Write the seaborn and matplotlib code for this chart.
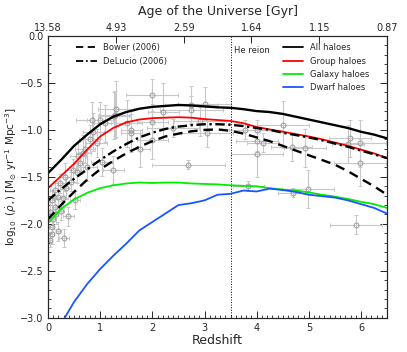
import numpy as np
import pandas as pd
import matplotlib
matplotlib.use('Agg')
import matplotlib.pyplot as plt
from matplotlib.ticker import MultipleLocator
from matplotlib.lines import Line2D
import seaborn as sns

# Model curves (redshift grid + log10 SFR density)
z_grid = [0, 0.25, 0.5, 0.75, 1.0, 1.25, 1.5, 1.75, 2.0, 2.25, 2.5, 2.75, 3.0, 3.25,
          3.5, 3.75, 4.0, 4.25, 4.5, 4.75, 5.0, 5.25, 5.5, 5.75, 6.0, 6.25, 6.5]
all_haloes = [-1.46, -1.32, -1.17, -1.05, -0.94, -0.86, -0.81, -0.775, -0.755, -0.745, -0.735, -0.74, -0.75, -0.76,
              -0.765, -0.78, -0.80, -0.81, -0.83, -0.86, -0.89, -0.92, -0.95, -0.98, -1.02, -1.05, -1.09]
group_haloes = [-1.62, -1.49, -1.36, -1.21, -1.07, -0.98, -0.92, -0.89, -0.875, -0.87, -0.865, -0.87, -0.885, -0.895,
                -0.905, -0.93, -0.97, -0.995, -1.02, -1.045, -1.07, -1.10, -1.135, -1.17, -1.21, -1.25, -1.30]
galaxy_haloes = [-1.99, -1.84, -1.74, -1.67, -1.62, -1.59, -1.57, -1.56, -1.565, -1.56, -1.56, -1.57, -1.575, -1.58,
                 -1.59, -1.595, -1.60, -1.62, -1.635, -1.645, -1.665, -1.69, -1.71, -1.735, -1.765, -1.79, -1.83]
delucia = [-1.75, -1.63, -1.52, -1.42, -1.32, -1.23, -1.15, -1.08, -1.03, -0.99, -0.965, -0.95, -0.94, -0.94,
           -0.945, -0.96, -0.98, -1.0, -1.03, -1.055, -1.08, -1.11, -1.145, -1.18, -1.22, -1.26, -1.30]
bower = [-1.95, -1.80, -1.66, -1.53, -1.42, -1.33, -1.25, -1.18, -1.12, -1.07, -1.04, -1.015, -1.0, -0.995,
         -1.01, -1.04, -1.08, -1.12, -1.17, -1.22, -1.27, -1.32, -1.37, -1.44, -1.52, -1.60, -1.69]

z_dwarf = [0.32, 0.5, 0.75, 1.0, 1.25, 1.5, 1.75, 2.0, 2.25, 2.5, 2.75, 3.0, 3.25,
           3.5, 3.75, 4.0, 4.25, 4.5, 4.75, 5.0, 5.25, 5.5, 5.75, 6.0, 6.25, 6.5]
dwarf_haloes = [-3.0, -2.83, -2.64, -2.48, -2.34, -2.21, -2.07, -1.98, -1.89, -1.80, -1.78, -1.75, -1.69,
                -1.68, -1.645, -1.655, -1.625, -1.64, -1.66, -1.69, -1.705, -1.72, -1.75, -1.79, -1.83, -1.89]

# Observational compilation
obs_z = [0.04, 0.07, 0.07, 0.04, 0.13, 0.07, 0.2, 0.13, 0.23, 0.33, 0.48, 0.58, 0.71, 0.87, 0.93,
         1.0, 1.09, 1.28, 1.25, 0.74, 1.03, 0.52, 0.39, 0.2, 0.31, 0.84, 1.26, 1.3,
         0.15, 0.28, 0.35, 0.45, 0.55, 0.62, 0.68, 0.8, 0.1, 0.25,
         1.51, 1.6, 1.6, 1.76, 2.0, 2.0, 2.0, 2.21, 2.4, 2.69, 2.75, 2.75, 2.91, 3.0, 3.04,
         3.77, 4.0, 4.0, 4.12, 4.0, 4.5, 4.67, 4.92, 5.79, 5.75, 5.98, 5.98, 3.84, 4.7, 4.99, 5.9]
obs_sfr = [-2.17, -2.11, -2.03, -1.87, -1.82, -1.75, -1.71, -1.64, -1.57, -1.5, -1.43, -1.28, -1.2, -1.02, -1.14,
           -0.9, -0.93, -0.84, -1.43, -1.39, -1.34, -1.745, -1.92, -2.08, -2.15, -0.9, -0.85, -0.78,
           -1.9, -1.73, -1.62, -1.55, -1.45, -1.35, -1.25, -1.1, -1.95, -1.86,
           -0.93, -1.0, -1.03, -1.2, -0.63, -0.92, -1.11, -0.805, -0.98, -1.37, -0.73, -0.79, -0.91, -0.72, -1.03,
           -1.0, -1.0, -1.12, -1.135, -1.255, -0.947, -1.18, -1.195, -1.09, -1.15, -1.14, -1.35, -1.595, -1.667, -1.63, -2.01]
obs_zerr = [0.03, 0.05, 0.05, 0.03, 0.05, 0.05, 0.1, 0.1, 0.1, 0.1, 0.15, 0.15, 0.2, 0.2, 0.2,
            0.25, 0.2, 0.3, 0.2, 0.2, 0.2, 0.1, 0.1, 0.05, 0.1, 0.3, 0.3, 0.35,
            0.05, 0.1, 0.1, 0.1, 0.1, 0.12, 0.15, 0.2, 0.05, 0.05,
            0.3, 0.2, 0.2, 0.2, 0.5, 0.3, 0.3, 0.3, 0.5, 0.7, 0.5, 0.6, 0.5, 0.5, 0.5,
            0.3, 0.5, 0.4, 0.3, 0.5, 0.5, 0.4, 0.4, 0.4, 0.3, 0.5, 0.5, 0.3, 0.3, 0.5, 0.5]
obs_sfrerr = [0.08, 0.1, 0.1, 0.1, 0.12, 0.1, 0.12, 0.1, 0.1, 0.15, 0.12, 0.15, 0.15, 0.2, 0.15,
              0.2, 0.2, 0.25, 0.15, 0.15, 0.15, 0.1, 0.1, 0.1, 0.1, 0.2, 0.25, 0.3,
              0.1, 0.1, 0.12, 0.1, 0.12, 0.12, 0.2, 0.15, 0.1, 0.1,
              0.25, 0.2, 0.2, 0.2, 0.17, 0.2, 0.2, 0.3, 0.1, 0.05, 0.2, 0.15, 0.15, 0.18, 0.15,
              0.1, 0.1, 0.1, 0.1, 0.25, 0.25, 0.15, 0.2, 0.2, 0.2, 0.25, 0.25, 0.05, 0.05, 0.2, 0.1]

age_ticks_z = [0, 1.3, 2.6, 3.9, 5.2, 6.5]
age_labels = ['13.58', '4.93', '2.59', '1.64', '1.15', '0.87']

sns.set_style('ticks')
plt.rcParams['font.family'] = ['DejaVu Sans']
plt.rcParams['xtick.direction'] = 'in'
plt.rcParams['ytick.direction'] = 'in'

fig = plt.figure(figsize=(4.07, 3.52), dpi=100)
ax = fig.add_axes([0.118, 0.097, 0.833, 0.801])

ax.errorbar(obs_z, obs_sfr, xerr=obs_zerr, yerr=obs_sfrerr, fmt='o', ms=3.5, mfc='none',
            mec='#999999', mew=0.7, ecolor='#c8c8c8', elinewidth=0.8, capsize=1.5, capthick=0.7, zorder=1)

sns.lineplot(x=z_grid, y=all_haloes, color='black', lw=1.7, ax=ax, zorder=3)
sns.lineplot(x=z_grid, y=group_haloes, color='#ff0000', lw=1.3, ax=ax, zorder=3)
sns.lineplot(x=z_grid, y=galaxy_haloes, color='#00ee00', lw=1.3, ax=ax, zorder=3)
sns.lineplot(x=z_dwarf, y=dwarf_haloes, color='#1a55ff', lw=1.3, ax=ax, zorder=3)
sns.lineplot(x=z_grid, y=bower, color='black', lw=1.7, ax=ax, zorder=3)
ax.lines[-1].set_dashes([4, 2.5])
sns.lineplot(x=z_grid, y=delucia, color='black', lw=1.7, ax=ax, zorder=3)
ax.lines[-1].set_dashes([4, 1.5, 1, 1.5])

ax.axvline(3.5, color='black', lw=0.7, ls=':', zorder=2)
ax.text(3.57, -0.11, 'He reion', fontsize=6, va='top')

ax.set_xlim(0, 6.5)
ax.set_ylim(-3.0, 0.0)
ax.xaxis.set_major_locator(MultipleLocator(1))
ax.xaxis.set_minor_locator(MultipleLocator(0.1))
ax.yaxis.set_major_locator(MultipleLocator(0.5))
ax.yaxis.set_minor_locator(MultipleLocator(0.1))
ax.yaxis.set_major_formatter(matplotlib.ticker.FuncFormatter(lambda v, p: f'{v:.1f}'.replace('-', '\u2212')))
ax.tick_params(which='major', length=5, width=0.7, labelsize=7, right=True)
ax.tick_params(which='minor', length=2.5, width=0.6, right=True)
for s in ax.spines.values():
    s.set_linewidth(0.8)
ax.set_xlabel('Redshift', fontsize=9, labelpad=1)
ax.set_ylabel(r'$\log_{10}\ (\dot{\rho}_{\star})\ [\mathrm{M_{\odot}\ yr^{-1}\ Mpc^{-3}}]$', fontsize=7.5)
ax.yaxis.set_label_coords(-0.085, 0.5)

top = ax.twiny()
top.set_xlim(ax.get_xlim())
top.set_xticks(age_ticks_z)
top.set_xticklabels(age_labels)
top.tick_params(direction='in', length=5, width=0.7, labelsize=7, pad=2)
top.set_xlabel('Age of the Universe [Gyr]', fontsize=9, labelpad=6)

h1 = [Line2D([], [], color='black', lw=1.3, dashes=[4, 2.5]),
      Line2D([], [], color='black', lw=1.3, dashes=[4, 1.5, 1, 1.5])]
leg1 = ax.legend(h1, ['Bower (2006)', 'DeLucio (2006)'], loc='upper left', bbox_to_anchor=(0.06, 1.0),
                 frameon=False, fontsize=6, handlelength=2.5, labelspacing=0.6)
ax.add_artist(leg1)
h2 = [Line2D([], [], color=c, lw=1.3) for c in ['black', '#ff0000', '#00ee00', '#1a55ff']]
ax.legend(h2, ['All haloes', 'Group haloes', 'Galaxy haloes', 'Dwarf haloes'], loc='upper right',
          bbox_to_anchor=(0.97, 1.0), frameon=False, fontsize=6, handlelength=2.5, labelspacing=0.5)

fig.savefig('out.png', dpi=100)
